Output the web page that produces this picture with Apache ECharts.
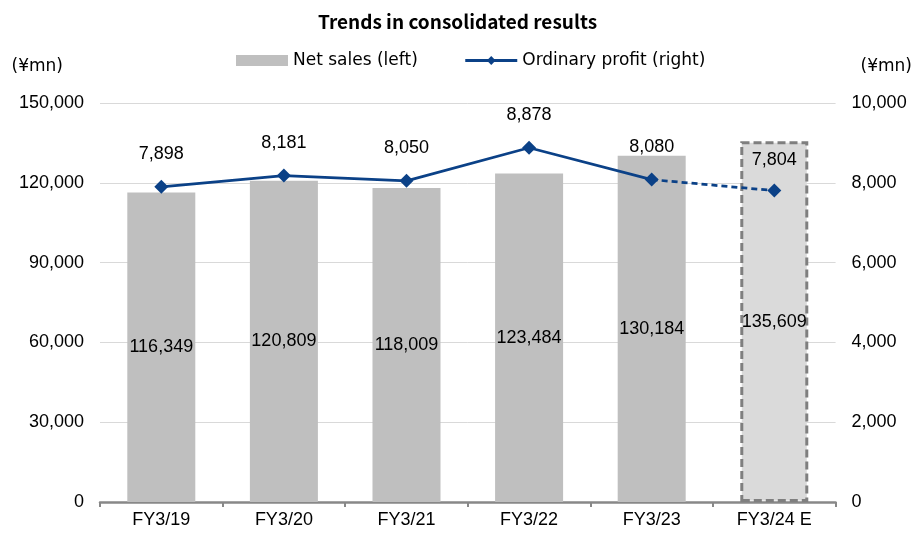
<!DOCTYPE html>
<html>
<head>
<meta charset="utf-8">
<script src="https://cdn.jsdelivr.net/npm/echarts@6/dist/echarts.min.js"></script>
<style>
html,body{margin:0;padding:0;background:#fff;}
#chart{width:915px;height:536px;}
</style>
</head>
<body>
<div id="chart"></div>
<script>
const categories = ['FY3/19', 'FY3/20', 'FY3/21', 'FY3/22', 'FY3/23', 'FY3/24 E'];
const netSales = [116349, 120809, 118009, 123484, 130184, 135609];
const ordinaryProfit = [7898, 8181, 8050, 8878, 8080, 7804];
const forecastIndex = 5;

const FONT = '"Liberation Sans", Arial, sans-serif';
const LEGEND_FONT = '"DejaVu Sans", sans-serif';
const TITLE_FONT = '"Noto Sans CJK JP", "Noto Sans", sans-serif';
const fmt = v => Number(v).toLocaleString('en-US');

const barData = netSales.map((v, i) => i === forecastIndex ? {
  value: v,
  itemStyle: { color: '#dadada', borderColor: '#7f7f7f', borderWidth: 3, borderType: [8, 4] }
} : v);

const solidLine = ordinaryProfit.map((v, i) => i < forecastIndex ? v : '-');
const dashedLine = ordinaryProfit.map((v, i) => {
  if (i === forecastIndex - 1) return { value: v, symbol: 'none', label: { show: false } };
  if (i === forecastIndex) return v;
  return '-';
});

const chart = echarts.init(document.getElementById('chart'));
chart.setOption({
  animation: false,
  textStyle: { fontFamily: FONT },
  title: {
    text: 'Trends in consolidated results',
    left: 'center', top: 7,
    textStyle: { fontSize: 19, fontWeight: 'bold', color: '#000', fontFamily: TITLE_FONT }
  },
  legend: {
    top: 47, left: 231,
    itemGap: 46,
    itemWidth: 52, itemHeight: 11,
    textStyle: { fontSize: 17, color: '#000', fontFamily: LEGEND_FONT },
    data: [
      { name: 'Net sales (left)', icon: 'rect' },
      { name: 'Ordinary profit (right)', lineStyle: { width: 3 } }
    ]
  },
  grid: { left: 100, right: 78, top: 103, bottom: 34 },
  xAxis: {
    type: 'category',
    data: categories,
    axisLine: { lineStyle: { color: '#888', width: 2.5 } },
    axisTick: { show: true, length: 5, lineStyle: { color: '#888', width: 2 } },
    axisLabel: { fontSize: 18, color: '#000', margin: 9, fontFamily: FONT }
  },
  yAxis: [
    {
      type: 'value', min: 0, max: 150000, interval: 30000,
      name: '(¥mn)', nameLocation: 'end', nameGap: 28,
      nameTextStyle: { fontSize: 17, color: '#000', align: 'right', padding: [0, 37, 0, 0], fontFamily: LEGEND_FONT },
      axisLine: { show: false }, axisTick: { show: false },
      axisLabel: { fontSize: 18, color: '#000', margin: 16, formatter: v => fmt(v), fontFamily: FONT },
      splitLine: { lineStyle: { color: '#d9d9d9', width: 1 } }
    },
    {
      type: 'value', min: 0, max: 10000, interval: 2000,
      name: '(¥mn)', nameLocation: 'end', nameGap: 28,
      nameTextStyle: { fontSize: 17, color: '#000', align: 'left', padding: [0, 0, 0, 25], fontFamily: LEGEND_FONT },
      axisLine: { show: false }, axisTick: { show: false },
      axisLabel: { fontSize: 18, color: '#000', margin: 16, formatter: v => fmt(v), fontFamily: FONT },
      splitLine: { show: false }
    }
  ],
  series: [
    {
      name: 'Net sales (left)',
      type: 'bar',
      yAxisIndex: 0,
      barWidth: 68,
      itemStyle: { color: '#bfbfbf' },
      label: { show: true, position: 'inside', fontSize: 18, color: '#000', formatter: p => fmt(p.value), fontFamily: FONT },
      data: barData
    },
    {
      name: 'Ordinary profit (right)',
      type: 'line',
      yAxisIndex: 1,
      symbol: 'diamond', symbolSize: 14,
      lineStyle: { color: '#0b4187', width: 2.75 },
      itemStyle: { color: '#0b4187' },
      label: { show: true, position: 'top', distance: 17, fontSize: 18, color: '#000', formatter: p => fmt(p.value), fontFamily: FONT },
      data: solidLine,
      z: 5
    },
    {
      name: 'Ordinary profit forecast',
      type: 'line',
      yAxisIndex: 1,
      symbol: 'diamond', symbolSize: 14,
      lineStyle: { color: '#0b4187', width: 2.75, type: [6, 4] },
      itemStyle: { color: '#0b4187' },
      label: { show: true, position: 'top', distance: 15, fontSize: 18, color: '#000', formatter: p => fmt(p.value), fontFamily: FONT },
      data: dashedLine,
      z: 5
    }
  ]
});
</script>
</body>
</html>
